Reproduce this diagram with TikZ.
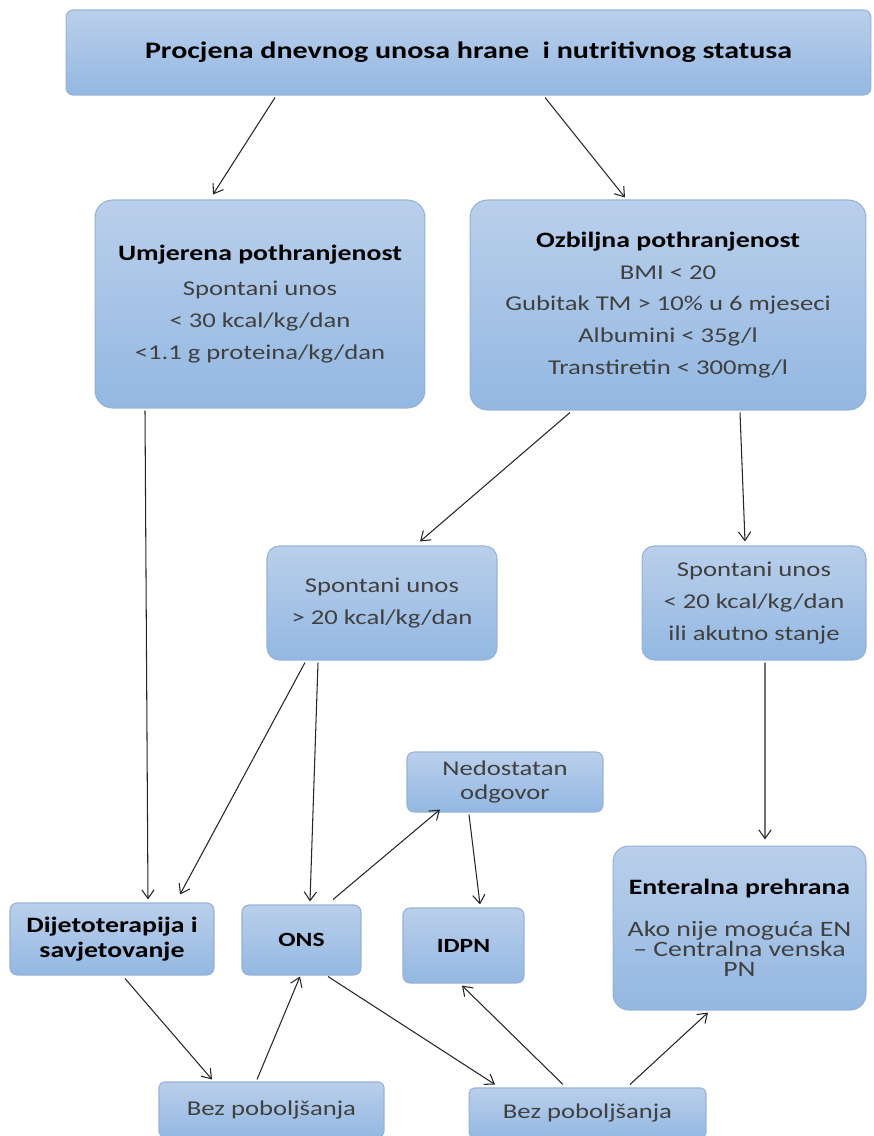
\documentclass[tikz,border=0pt]{standalone}
\usepackage{fontspec}
\setmainfont{Carlito}[FakeStretch=1.265]
\usepackage{tikz}
\usetikzlibrary{arrows.meta, calc}
\definecolor{BoxTop}{RGB}{186,207,235}
\definecolor{BoxBot}{RGB}{147,184,226}
\definecolor{BoxLine}{RGB}{150,178,214}
\definecolor{TxtGray}{RGB}{64,64,64}
\newcommand{\hdtxt}[1]{\textcolor{black}{\fontsize{12.5}{18}\selectfont\bfseries #1}}

\begin{document}
\begin{tikzpicture}[x=0.02cm, y=-0.02cm,
            box/.style={rectangle, rounded corners=10pt, draw=BoxLine, line width=0.6pt,
                        top color=BoxTop, bottom color=BoxBot,
                        inner sep=0pt, align=center, text=TxtGray,
                        font=\fontsize{12}{18}\selectfont},
            arr/.style={-{Straight Barb[length=5pt, width=7pt]}, black!85, line width=0.6pt}
          ]
          \useasboundingbox (0,0) rectangle (873,1136);
          \node[box, rounded corners=4pt, minimum width=16.1cm, minimum height=1.7cm] (top) at (468.5, 52.5)
                {\textcolor{black}{\fontsize{13.5}{16}\selectfont\bfseries Procjena dnevnog unosa hrane \ i nutritivnog statusa}};
          \node[box, minimum width=6.6cm, minimum height=4.16cm] (umj) at (260, 304)
                {\hdtxt{Umjerena pothranjenost}\\[2pt]Spontani unos\\< 30 kcal/kg/dan\\<1.1 g proteina/kg/dan};
          \node[box, minimum width=7.92cm, minimum height=4.2cm] (ozb) at (668, 305)
                {\hdtxt{Ozbiljna pothranjenost}\\BMI < 20\\Gubitak TM > 10\% u 6 mjeseci\\Albumini < 35g/l\\Transtiretin < 300mg/l};
          \node[box, rounded corners=7pt, minimum width=4.6cm, minimum height=2.28cm] (sp1) at (382, 603)
                {Spontani unos\\> 20 kcal/kg/dan};
          \node[box, rounded corners=7pt, minimum width=4.48cm, minimum height=2.28cm] (sp2) at (754, 603)
                {Spontani unos\\< 20 kcal/kg/dan\\ili akutno stanje};
          \node[box, rounded corners=4pt, minimum width=3.92cm, minimum height=1.2cm,
                font=\fontsize{12}{14}\selectfont] (nedo) at (505, 782)
                {Nedostatan\\odgovor};
          \node[box, rounded corners=4pt, minimum width=4.08cm, minimum height=1.44cm, text=black,
                font=\fontsize{12.5}{14.5}\selectfont\bfseries] (dij) at (112, 939)
                {Dijetoterapija i\\savjetovanje};
          \node[box, rounded corners=4pt, minimum width=2.38cm, minimum height=1.4cm, text=black,
                font=\fontsize{11.5}{14}\selectfont\bfseries] (ons) at (301.5, 940) {ONS};
          \node[box, rounded corners=4pt, minimum width=2.42cm, minimum height=1.5cm, text=black,
                font=\fontsize{11.5}{14}\selectfont\bfseries] (idpn) at (463.5, 945.5) {IDPN};
          \node[box, rounded corners=9pt, minimum width=5.06cm, minimum height=3.28cm,
                font=\fontsize{12.5}{11.5}\selectfont] (ent) at (739.5, 928)
                {\textcolor{black}{\bfseries Enteralna prehrana}\\[12pt]Ako nije moguća EN\\– Centralna venska\\PN};
          \node[box, rounded corners=3pt, minimum width=4.5cm, minimum height=1.1cm] (bez1) at (271.5, 1109.5)
                {Bez poboljšanja};
          \node[box, rounded corners=3pt, minimum width=4.74cm, minimum height=1.0cm] (bez2) at (587.5, 1113)
                {Bez poboljšanja};

          \draw[arr] ($(top.south)+(-193.5,2)$) -- ($(umj.north)+(-47,-5)$);
          \draw[arr] ($(top.south)+(76.5,2)$)   -- ($(ozb.north)+(-43,-2)$);
          \draw[arr] ($(umj.south)+(-115,2)$)   -- ($(dij.north)+(36,-3)$);
          \draw[arr] ($(ozb.south)+(-98,2)$)    -- ($(sp1.north)+(38,-4)$);
          \draw[arr] ($(ozb.south)+(72,2)$)     -- ($(sp2.north)+(-9,-4)$);
          \draw[arr] ($(sp1.south)+(-77,2)$)    -- ($(dij.north)+(68,-8)$);
          \draw[arr] ($(sp1.south)+(-64,2)$)    -- ($(ons.north)+(8.5,-3)$);
          \draw[arr] ($(sp2.south)+(11,2)$)     -- ($(ent.north)+(25.5,-6)$);
          \draw[arr] ($(ons.north)+(31.5,-5)$)  -- ($(nedo.south)+(-65,-3)$);
          \draw[arr] ($(nedo.south)+(-36,2)$)   -- ($(idpn.north)+(16.5,-3)$);
          \draw[arr] ($(dij.south)+(13,3)$)     -- ($(bez1.north)+(-59.5,-2)$);
          \draw[arr] ($(bez1.north)+(-14.5,-2)$) -- ($(ons.south)+(-1.5,1)$);
          \draw[arr] ($(ons.south)+(26.5,1)$)   -- ($(bez2.north)+(-92.5,-3)$);
          \draw[arr] ($(bez2.north)+(-24.5,-3)$) -- ($(idpn.south)+(-1.5,2)$);
          \draw[arr] ($(bez2.north)+(42.5,-3)$) -- ($(ent.south)+(-31.5,2)$);
        \end{tikzpicture}
\end{document}
